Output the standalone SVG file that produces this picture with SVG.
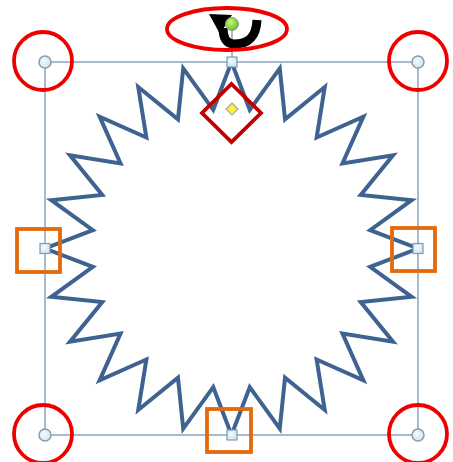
<svg xmlns="http://www.w3.org/2000/svg" width="453" height="462" viewBox="0 0 453 462">
<style>
.frame{fill:none;stroke:#8DA2BE;stroke-width:1.5}
.star{fill:#fff;stroke:#3F6391;stroke-width:4;stroke-linejoin:miter;stroke-miterlimit:10}
.corner{fill:url(#hg);stroke:#8C9BA6;stroke-width:1.5}
.side{fill:url(#hg);stroke:#7E9CBA;stroke-width:1.2}
.red{fill:none;stroke:#EE0000;stroke-width:3.8}
.orange{fill:none;stroke:#E4690B;stroke-width:3.8}
.dred{fill:none;stroke:#C00000;stroke-width:3.8}
</style>
<defs>
<radialGradient id="hg" cx="0.4" cy="0.4" r="0.7">
<stop offset="0" stop-color="#F4FBFD"/>
<stop offset="1" stop-color="#C9E4EE"/>
</radialGradient>
<radialGradient id="gg" cx="0.4" cy="0.35" r="0.7">
<stop offset="0" stop-color="#C8F57A"/>
<stop offset="1" stop-color="#5FBF1A"/>
</radialGradient>
</defs>
<rect width="453" height="462" fill="#fff"/>
<g id="star">
<polygon class="star" points="231.5,62 249.76,109.82 279.77,68.35 285.03,119.27 324.75,86.99 316.65,137.53 363.38,116.62 342.47,163.35 393.01,155.25 360.73,194.97 411.65,200.23 370.18,230.24 418,248.5 370.18,266.76 411.65,296.77 360.73,302.03 393.01,341.75 342.47,333.65 363.38,380.38 316.65,359.47 324.75,410.01 285.03,377.73 279.77,428.65 249.76,387.18 231.5,435 213.24,387.18 183.23,428.65 177.97,377.73 138.25,410.01 146.35,359.47 99.62,380.38 120.53,333.65 69.99,341.75 102.27,302.03 51.35,296.77 92.82,266.76 45,248.5 92.82,230.24 51.35,200.23 102.27,194.97 69.99,155.25 120.53,163.35 99.62,116.62 146.35,137.53 138.25,86.99 177.97,119.27 183.23,68.35 213.24,109.82"/>
</g>
<g id="frame">
<rect class="frame" x="45" y="62" width="373" height="373"/>
<line class="frame" x1="232" y1="62" x2="232" y2="26"/>
</g>
<g id="rotate-arrow">
<path d="M257,20 C256,39 247,44 234,44 C226,44 223,37 223,28" fill="none" stroke="#000" stroke-width="9"/>
<polygon points="209,14 232,15 220,34" fill="#000"/>
</g>
<g id="handles">
<circle class="corner" cx="45" cy="62" r="6"/>
<circle class="corner" cx="418" cy="62" r="6"/>
<circle class="corner" cx="45" cy="435" r="6"/>
<circle class="corner" cx="418" cy="435" r="6"/>
<rect class="side" x="227" y="57" width="10" height="10"/>
<rect class="side" x="227" y="430" width="10" height="10"/>
<rect class="side" x="40" y="243.5" width="10" height="10"/>
<rect class="side" x="413" y="243.5" width="10" height="10"/>
<polygon points="232,103 238,109 232,115 226,109" fill="#FFF03A" stroke="#A8A8A8" stroke-width="1.2"/>
<circle cx="232" cy="24" r="6.5" fill="url(#gg)" stroke="#8CA08C" stroke-width="1"/>
</g>
<g id="highlights">
<ellipse class="red" cx="227" cy="29" rx="60" ry="21"/>
<circle class="red" cx="43" cy="61" r="29"/>
<circle class="red" cx="418" cy="61" r="29"/>
<circle class="red" cx="43" cy="434" r="29"/>
<circle class="red" cx="418" cy="434" r="29"/>
<rect class="orange" x="17" y="229" width="43" height="43"/>
<rect class="orange" x="392" y="228" width="43" height="43"/>
<rect class="orange" x="207" y="409" width="44" height="43"/>
<polygon class="dred" points="231.5,84 261,113 231.5,142 202,113"/>
</g>
</svg>
